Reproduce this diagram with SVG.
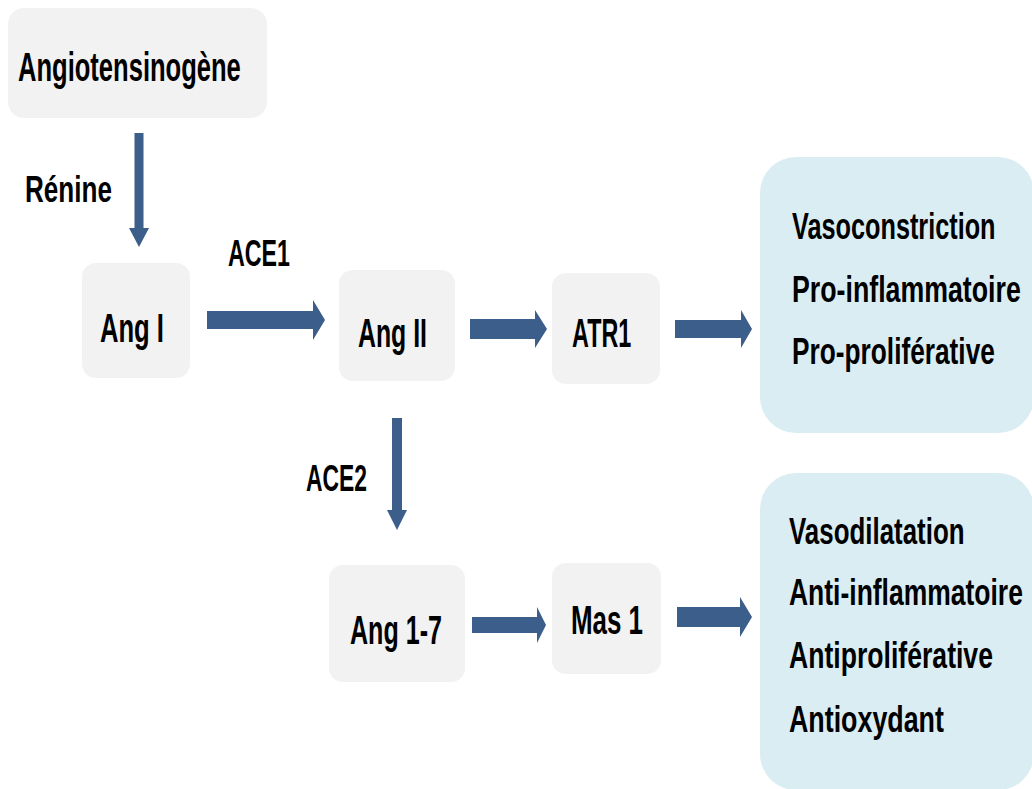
<svg xmlns="http://www.w3.org/2000/svg" width="1032" height="789" viewBox="0 0 1032 789">
<style>
.node{fill:#F2F2F2}
.eff{fill:#DAEDF3}
.t{font-family:"Liberation Sans",Arial,sans-serif;font-weight:bold;font-size:37px;fill:#000}
.n{font-size:40px}
.arr{fill:#3C5E8A}
</style>
<rect width="1032" height="789" fill="#fff"/>
<g id="angiotensinogene"><rect class="node" x="8" y="8" width="259" height="110" rx="16"/><text class="t n" transform="translate(18,81) scale(0.639,1)">Angiotensinogène</text></g>
<g id="ang1"><rect class="node" x="82" y="263" width="108" height="115" rx="14"/><text class="t n" transform="translate(100,342) scale(0.64,1)">Ang I</text></g>
<g id="ang2"><rect class="node" x="339" y="270" width="116" height="111" rx="14"/><text class="t n" transform="translate(358,347) scale(0.621,1)">Ang II</text></g>
<g id="atr1"><rect class="node" x="552" y="273" width="108" height="111" rx="14"/><text class="t n" transform="translate(572,347) scale(0.584,1)">ATR1</text></g>
<g id="ang17"><rect class="node" x="329" y="565" width="136" height="117" rx="14"/><text class="t n" transform="translate(350,644) scale(0.627,1)">Ang 1-7</text></g>
<g id="mas1"><rect class="node" x="552" y="563" width="109" height="111" rx="14"/><text class="t n" transform="translate(571,634) scale(0.648,1)">Mas 1</text></g>
<g id="effets1"><rect class="eff" x="760" y="157" width="274" height="276" rx="36"/>
<text class="t" transform="translate(792,239) scale(0.683,1)">Vasoconstriction</text>
<text class="t" transform="translate(792,302) scale(0.723,1)">Pro-inflammatoire</text>
<text class="t" transform="translate(792,364) scale(0.71,1)">Pro-proliférative</text></g>
<g id="effets2"><rect class="eff" x="760" y="473" width="274" height="317" rx="36"/>
<text class="t" transform="translate(789,544) scale(0.7,1)">Vasodilatation</text>
<text class="t" transform="translate(789,605) scale(0.716,1)">Anti-inflammatoire</text>
<text class="t" transform="translate(789,668) scale(0.719,1)">Antiproliférative</text>
<text class="t" transform="translate(789,732) scale(0.725,1)">Antioxydant</text></g>
<g id="labels">
<text class="t" transform="translate(25,202) scale(0.705,1)">Rénine</text>
<text class="t" transform="translate(228,266) scale(0.628,1)">ACE1</text>
<text class="t" transform="translate(306,491) scale(0.618,1)">ACE2</text>
</g>
<g id="connectors" class="arr">
<path d="M134.5,133 H143.5 V228 H149 L139,247 L129,228 H134.5 Z"/>
<path d="M207,311 H313 V300 L325,320 L313,340 V329 H207 Z"/>
<path d="M470,319 H535 V310 L547,329 L535,348 V339 H470 Z"/>
<path d="M675,320 H741 V310 L752,329 L741,348 V338 H675 Z"/>
<path d="M392,418 H402 V510 H407 L397,530 L387,510 H392 Z"/>
<path d="M472,617 H537 V607 L546,625 L537,643 V633 H472 Z"/>
<path d="M677,607 H740 V597 L752,617 L740,637 V627 H677 Z"/>
</g>
</svg>
